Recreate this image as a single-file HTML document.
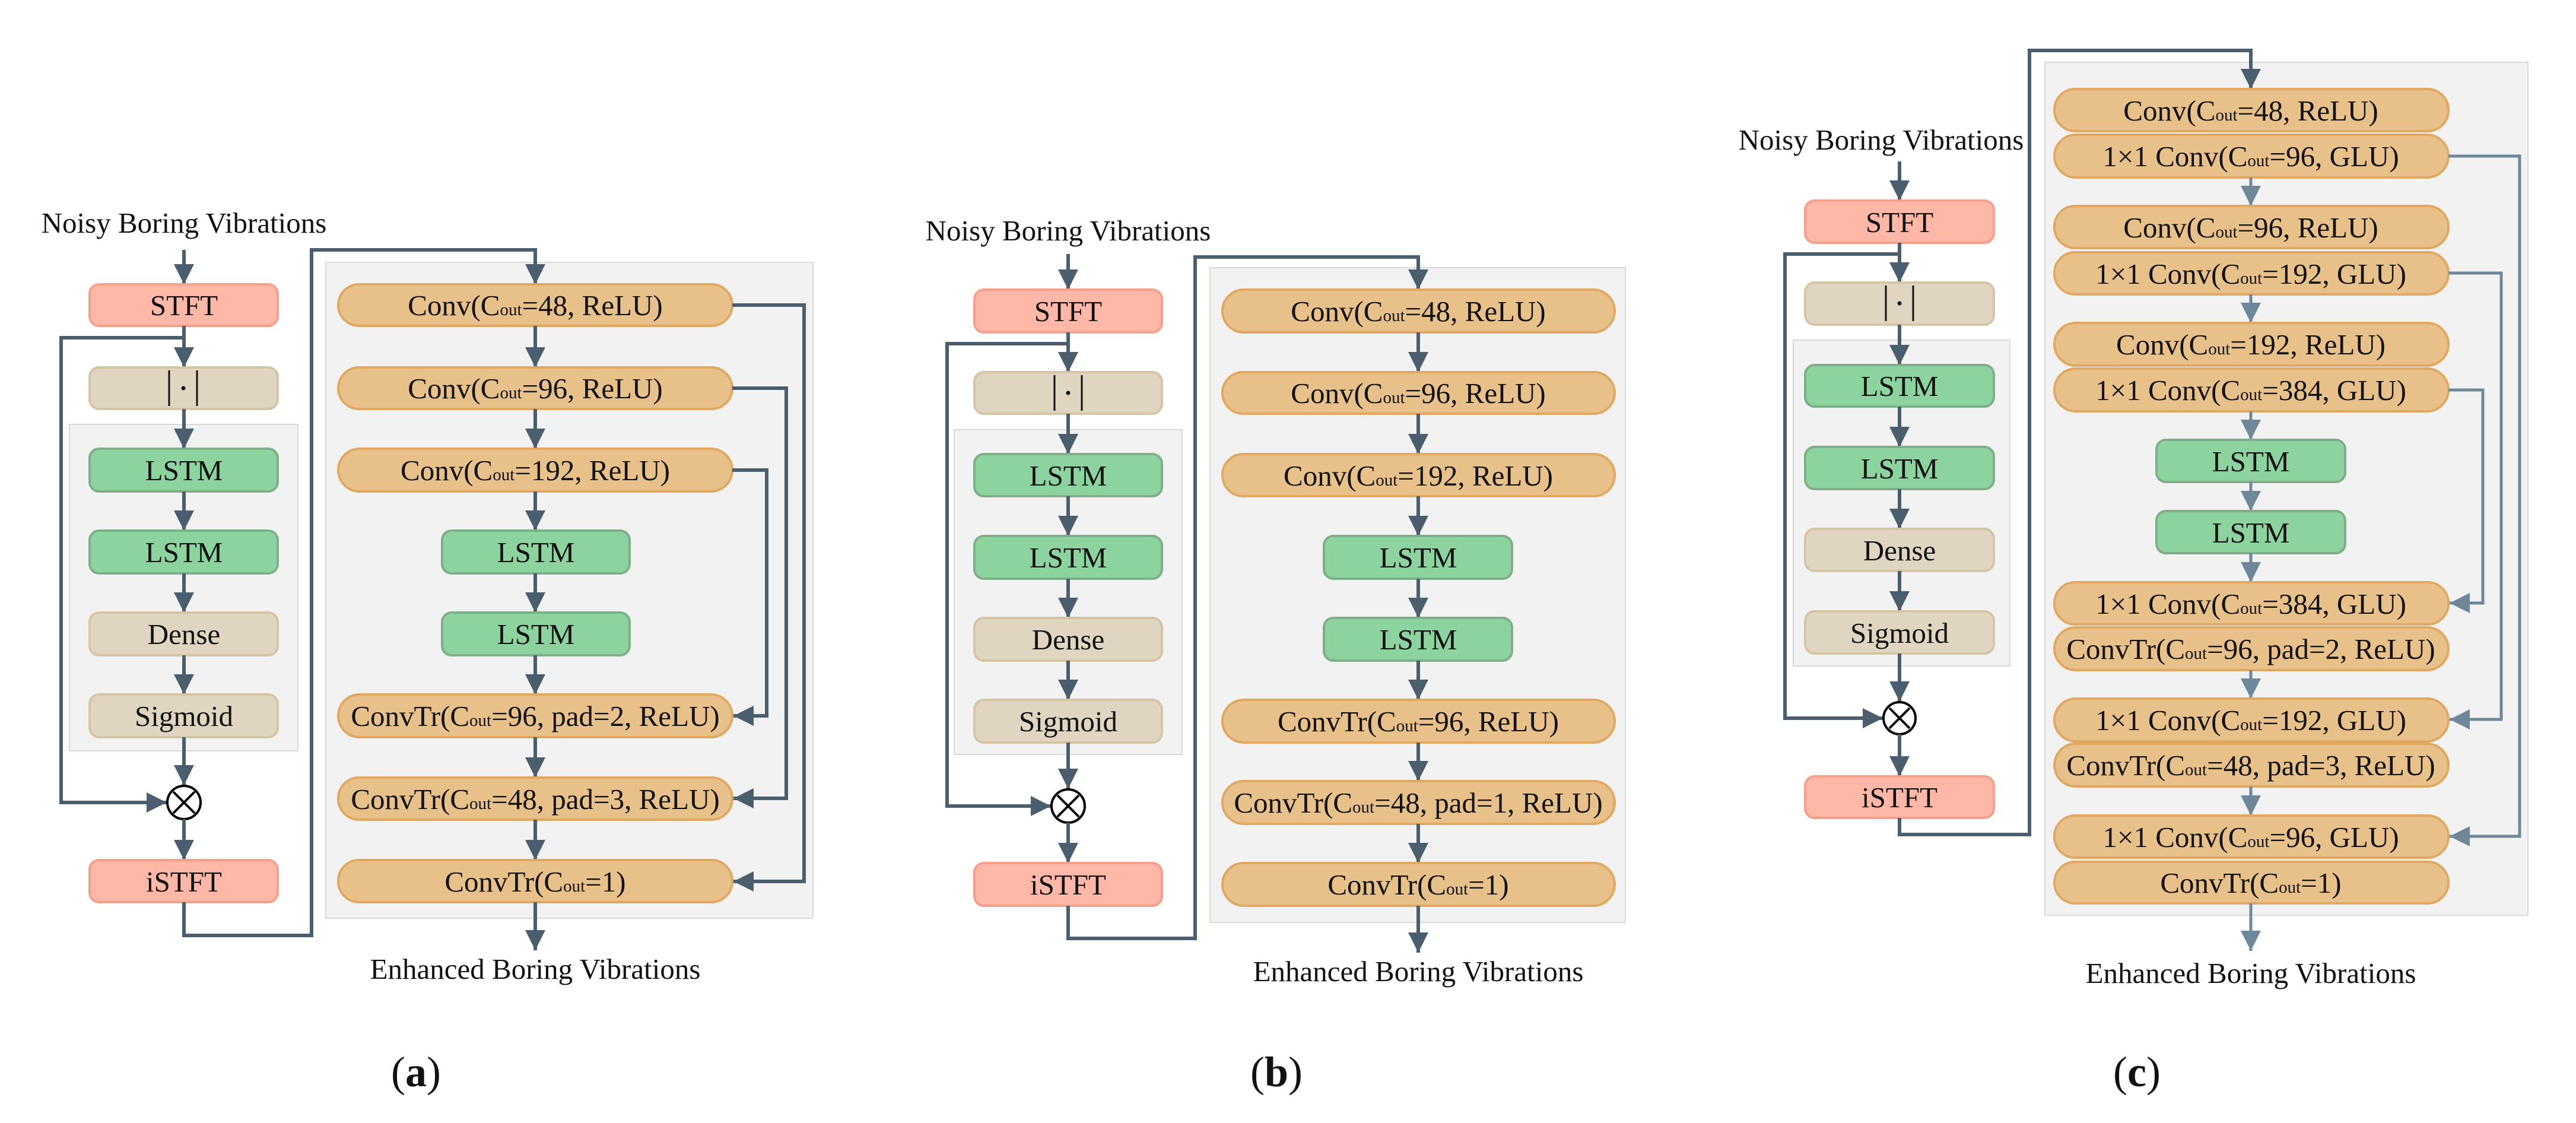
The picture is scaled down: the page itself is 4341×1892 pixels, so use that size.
<!DOCTYPE html>
<html><head><meta charset="utf-8"><style>html,body{margin:0;padding:0;background:#fff}svg{display:block}</style></head>
<body>
<svg width="4341" height="1892" viewBox="0 0 4341 1892" xmlns="http://www.w3.org/2000/svg" font-family="'Liberation Serif', serif">
<defs>
<marker id="ah" markerWidth="34" markerHeight="34" refX="34" refY="17" orient="auto" markerUnits="userSpaceOnUse"><path d="M0,0 L34,17 L0,34 z" fill="#4a5e6e"/></marker>
<marker id="ah2" markerWidth="34" markerHeight="34" refX="34" refY="17" orient="auto" markerUnits="userSpaceOnUse"><path d="M0,0 L34,17 L0,34 z" fill="#6e8799"/></marker>
<style>
.ln{stroke:#4a5e6e;stroke-width:6;fill:none}
.ln2{stroke:#6e8799;stroke-width:5;fill:none}
.st{fill:#ffb8a8;stroke:#f5a08c;stroke-width:4}
.be{fill:#e0d5c1;stroke:#d6c4a6;stroke-width:4}
.gr{fill:#8dd3a0;stroke:#7eaf88;stroke-width:4}
.or{fill:#e8c08a;stroke:#e0a860;stroke-width:4}
.bg{fill:#f2f2f2;stroke:#d9d9d9;stroke-width:2}
text{font-size:49px;fill:#111;text-anchor:middle}
.s{font-size:29px}
.cap{font-size:72px}
</style>
</defs>

<!-- ================= PANEL A ================= -->
<rect class="bg" x="117" y="715" width="385" height="550"/>
<rect class="bg" x="549" y="442" width="821" height="1105"/>
<text x="310" y="392">Noisy Boring Vibrations</text>
<path class="ln" d="M310,421 V479" marker-end="url(#ah)"/>
<rect class="st" x="151" y="479" width="317" height="70" rx="16"/>
<text x="310" y="531">STFT</text>
<path class="ln" d="M310,549 V619" marker-end="url(#ah)"/>
<path class="ln" d="M310,569 H103 V1352 H281" marker-end="url(#ah)"/>
<rect class="be" x="151" y="619" width="317" height="70" rx="16"/>
<line x1="285" y1="624" x2="285" y2="684" stroke="#111" stroke-width="3"/>
<line x1="332" y1="624" x2="332" y2="684" stroke="#111" stroke-width="3"/>
<circle cx="309" cy="654" r="3.5" fill="#111"/>
<path class="ln" d="M310,689 V756" marker-end="url(#ah)"/>
<rect class="gr" x="151" y="756" width="317" height="72" rx="16"/>
<text x="310" y="809">LSTM</text>
<path class="ln" d="M310,828 V894" marker-end="url(#ah)"/>
<rect class="gr" x="151" y="894" width="317" height="72" rx="16"/>
<text x="310" y="947">LSTM</text>
<path class="ln" d="M310,966 V1032" marker-end="url(#ah)"/>
<rect class="be" x="151" y="1032" width="317" height="72" rx="16"/>
<text x="310" y="1085">Dense</text>
<path class="ln" d="M310,1104 V1170" marker-end="url(#ah)"/>
<rect class="be" x="151" y="1170" width="317" height="72" rx="16"/>
<text x="310" y="1223">Sigmoid</text>
<path class="ln" d="M310,1242 V1323" marker-end="url(#ah)"/>
<circle cx="310" cy="1352" r="28" fill="#fff" stroke="#000" stroke-width="4"/>
<path d="M292,1334 L328,1370 M328,1334 L292,1370" stroke="#000" stroke-width="4"/>
<path class="ln" d="M310,1380 V1449" marker-end="url(#ah)"/>
<rect class="st" x="151" y="1449" width="317" height="71" rx="16"/>
<text x="310" y="1502">iSTFT</text>
<path class="ln" d="M310,1520 V1576 H525 V421 H902 V479" marker-end="url(#ah)"/>

<rect class="or" x="570" y="479" width="664" height="70" rx="35"/>
<text x="902" y="531">Conv(C<tspan class="s">out</tspan>=48, ReLU)</text>
<path class="ln" d="M902,549 V619" marker-end="url(#ah)"/>
<rect class="or" x="570" y="619" width="664" height="70" rx="35"/>
<text x="902" y="671">Conv(C<tspan class="s">out</tspan>=96, ReLU)</text>
<path class="ln" d="M902,689 V756" marker-end="url(#ah)"/>
<rect class="or" x="570" y="756" width="664" height="72" rx="36"/>
<text x="902" y="809">Conv(C<tspan class="s">out</tspan>=192, ReLU)</text>
<path class="ln" d="M902,828 V894" marker-end="url(#ah)"/>
<rect class="gr" x="745" y="894" width="316" height="72" rx="16"/>
<text x="903" y="947">LSTM</text>
<path class="ln" d="M902,966 V1032" marker-end="url(#ah)"/>
<rect class="gr" x="745" y="1032" width="316" height="72" rx="16"/>
<text x="903" y="1085">LSTM</text>
<path class="ln" d="M902,1104 V1170" marker-end="url(#ah)"/>
<rect class="or" x="570" y="1170" width="664" height="72" rx="36"/>
<text x="902" y="1223">ConvTr(C<tspan class="s">out</tspan>=96, pad=2, ReLU)</text>
<path class="ln" d="M902,1242 V1310" marker-end="url(#ah)"/>
<rect class="or" x="570" y="1310" width="664" height="71" rx="35"/>
<text x="902" y="1363">ConvTr(C<tspan class="s">out</tspan>=48, pad=3, ReLU)</text>
<path class="ln" d="M902,1381 V1449" marker-end="url(#ah)"/>
<rect class="or" x="570" y="1449" width="664" height="71" rx="35"/>
<text x="902" y="1502">ConvTr(C<tspan class="s">out</tspan>=1)</text>
<path class="ln" d="M1234,514 H1355 V1485 H1236" marker-end="url(#ah)"/>
<path class="ln" d="M1234,654 H1325 V1345 H1236" marker-end="url(#ah)"/>
<path class="ln" d="M1234,792 H1292 V1206 H1236" marker-end="url(#ah)"/>
<path class="ln" d="M902,1520 V1601" marker-end="url(#ah)"/>
<text x="902" y="1649">Enhanced Boring Vibrations</text>
<text class="cap" x="701" y="1830">(<tspan font-weight="bold">a</tspan>)</text>

<!-- ================= PANEL B ================= -->
<rect class="bg" x="1608" y="724" width="384" height="547"/>
<rect class="bg" x="2039" y="451" width="700" height="1103"/>
<text x="1800" y="405">Noisy Boring Vibrations</text>
<path class="ln" d="M1800,428 V488" marker-end="url(#ah)"/>
<rect class="st" x="1642" y="488" width="316" height="72" rx="16"/>
<text x="1800" y="541">STFT</text>
<path class="ln" d="M1800,560 V627" marker-end="url(#ah)"/>
<path class="ln" d="M1800,579 H1596 V1358 H1771" marker-end="url(#ah)"/>
<rect class="be" x="1642" y="627" width="316" height="70" rx="16"/>
<line x1="1777" y1="632" x2="1777" y2="692" stroke="#111" stroke-width="3"/>
<line x1="1823" y1="632" x2="1823" y2="692" stroke="#111" stroke-width="3"/>
<circle cx="1800" cy="662" r="3.5" fill="#111"/>
<path class="ln" d="M1800,697 V765" marker-end="url(#ah)"/>
<rect class="gr" x="1642" y="765" width="316" height="71" rx="16"/>
<text x="1800" y="818">LSTM</text>
<path class="ln" d="M1800,836 V903" marker-end="url(#ah)"/>
<rect class="gr" x="1642" y="903" width="316" height="72" rx="16"/>
<text x="1800" y="956">LSTM</text>
<path class="ln" d="M1800,975 V1041" marker-end="url(#ah)"/>
<rect class="be" x="1642" y="1041" width="316" height="72" rx="16"/>
<text x="1800" y="1094">Dense</text>
<path class="ln" d="M1800,1113 V1179" marker-end="url(#ah)"/>
<rect class="be" x="1642" y="1179" width="316" height="72" rx="16"/>
<text x="1800" y="1232">Sigmoid</text>
<path class="ln" d="M1800,1251 V1329" marker-end="url(#ah)"/>
<circle cx="1800" cy="1358" r="28" fill="#fff" stroke="#000" stroke-width="4"/>
<path d="M1782,1340 L1818,1376 M1818,1340 L1782,1376" stroke="#000" stroke-width="4"/>
<path class="ln" d="M1800,1386 V1454" marker-end="url(#ah)"/>
<rect class="st" x="1642" y="1454" width="316" height="72" rx="16"/>
<text x="1800" y="1507">iSTFT</text>
<path class="ln" d="M1800,1526 V1581 H2014 V433 H2390 V488" marker-end="url(#ah)"/>

<rect class="or" x="2060" y="488" width="661" height="72" rx="36"/>
<text x="2390" y="541">Conv(C<tspan class="s">out</tspan>=48, ReLU)</text>
<path class="ln" d="M2390,560 V627" marker-end="url(#ah)"/>
<rect class="or" x="2060" y="627" width="661" height="70" rx="35"/>
<text x="2390" y="679">Conv(C<tspan class="s">out</tspan>=96, ReLU)</text>
<path class="ln" d="M2390,697 V765" marker-end="url(#ah)"/>
<rect class="or" x="2060" y="765" width="661" height="71" rx="35"/>
<text x="2390" y="818">Conv(C<tspan class="s">out</tspan>=192, ReLU)</text>
<path class="ln" d="M2390,836 V903" marker-end="url(#ah)"/>
<rect class="gr" x="2231" y="903" width="317" height="72" rx="16"/>
<text x="2390" y="956">LSTM</text>
<path class="ln" d="M2390,975 V1041" marker-end="url(#ah)"/>
<rect class="gr" x="2231" y="1041" width="317" height="72" rx="16"/>
<text x="2390" y="1094">LSTM</text>
<path class="ln" d="M2390,1113 V1179" marker-end="url(#ah)"/>
<rect class="or" x="2060" y="1179" width="661" height="72" rx="36"/>
<text x="2390" y="1232">ConvTr(C<tspan class="s">out</tspan>=96, ReLU)</text>
<path class="ln" d="M2390,1251 V1316" marker-end="url(#ah)"/>
<rect class="or" x="2060" y="1316" width="661" height="72" rx="36"/>
<text x="2390" y="1369">ConvTr(C<tspan class="s">out</tspan>=48, pad=1, ReLU)</text>
<path class="ln" d="M2390,1388 V1454" marker-end="url(#ah)"/>
<rect class="or" x="2060" y="1454" width="661" height="72" rx="36"/>
<text x="2390" y="1507">ConvTr(C<tspan class="s">out</tspan>=1)</text>
<path class="ln" d="M2390,1526 V1605" marker-end="url(#ah)"/>
<text x="2390" y="1653">Enhanced Boring Vibrations</text>
<text class="cap" x="2151" y="1830">(<tspan font-weight="bold">b</tspan>)</text>

<!-- ================= PANEL C ================= -->
<rect class="bg" x="3022" y="573" width="365" height="549"/>
<rect class="bg" x="3446" y="105" width="814" height="1437"/>
<text x="3170" y="252">Noisy Boring Vibrations</text>
<path class="ln" d="M3201,272 V338" marker-end="url(#ah)"/>
<rect class="st" x="3042" y="338" width="318" height="71" rx="16"/>
<text x="3201" y="391">STFT</text>
<path class="ln" d="M3201,409 V476" marker-end="url(#ah)"/>
<path class="ln" d="M3201,428 H3008 V1210 H3173" marker-end="url(#ah)"/>
<rect class="be" x="3042" y="476" width="318" height="71" rx="16"/>
<line x1="3178" y1="481" x2="3178" y2="541" stroke="#111" stroke-width="3"/>
<line x1="3224" y1="481" x2="3224" y2="541" stroke="#111" stroke-width="3"/>
<circle cx="3201" cy="511" r="3.5" fill="#111"/>
<path class="ln" d="M3201,547 V615" marker-end="url(#ah)"/>
<rect class="gr" x="3042" y="615" width="318" height="70" rx="16"/>
<text x="3201" y="667">LSTM</text>
<path class="ln" d="M3201,685 V753" marker-end="url(#ah)"/>
<rect class="gr" x="3042" y="753" width="318" height="71" rx="16"/>
<text x="3201" y="806">LSTM</text>
<path class="ln" d="M3201,824 V891" marker-end="url(#ah)"/>
<rect class="be" x="3042" y="891" width="318" height="71" rx="16"/>
<text x="3201" y="944">Dense</text>
<path class="ln" d="M3201,962 V1030" marker-end="url(#ah)"/>
<rect class="be" x="3042" y="1030" width="318" height="71" rx="16"/>
<text x="3201" y="1083">Sigmoid</text>
<path class="ln" d="M3201,1101 V1182" marker-end="url(#ah)"/>
<circle cx="3201" cy="1210" r="27" fill="#fff" stroke="#000" stroke-width="4"/>
<path d="M3184,1193 L3218,1227 M3218,1193 L3184,1227" stroke="#000" stroke-width="4"/>
<path class="ln" d="M3201,1237 V1308" marker-end="url(#ah)"/>
<rect class="st" x="3042" y="1308" width="318" height="70" rx="16"/>
<text x="3201" y="1360">iSTFT</text>
<path class="ln" d="M3201,1378 V1406 H3420 V85 H3793 V150" marker-end="url(#ah)"/>

<rect class="or" x="3462" y="150" width="664" height="71" rx="35"/>
<text x="3793" y="203">Conv(C<tspan class="s">out</tspan>=48, ReLU)</text>
<rect class="or" x="3462" y="227" width="664" height="72" rx="36"/>
<text x="3793" y="280">1×1 Conv(C<tspan class="s">out</tspan>=96, GLU)</text>
<path class="ln2" d="M3793,299 V347" marker-end="url(#ah2)"/>
<rect class="or" x="3462" y="347" width="664" height="71" rx="35"/>
<text x="3793" y="400">Conv(C<tspan class="s">out</tspan>=96, ReLU)</text>
<rect class="or" x="3462" y="425" width="664" height="71" rx="35"/>
<text x="3793" y="478">1×1 Conv(C<tspan class="s">out</tspan>=192, GLU)</text>
<path class="ln2" d="M3793,496 V544" marker-end="url(#ah2)"/>
<rect class="or" x="3462" y="544" width="664" height="72" rx="36"/>
<text x="3793" y="597">Conv(C<tspan class="s">out</tspan>=192, ReLU)</text>
<rect class="or" x="3462" y="621" width="664" height="72" rx="36"/>
<text x="3793" y="674">1×1 Conv(C<tspan class="s">out</tspan>=384, GLU)</text>
<path class="ln2" d="M3793,693 V741" marker-end="url(#ah2)"/>
<rect class="gr" x="3634" y="741" width="318" height="71" rx="16"/>
<text x="3793" y="794">LSTM</text>
<path class="ln2" d="M3793,812 V861" marker-end="url(#ah2)"/>
<rect class="gr" x="3634" y="861" width="318" height="71" rx="16"/>
<text x="3793" y="914">LSTM</text>
<path class="ln2" d="M3793,932 V981" marker-end="url(#ah2)"/>
<rect class="or" x="3462" y="981" width="664" height="71" rx="35"/>
<text x="3793" y="1034">1×1 Conv(C<tspan class="s">out</tspan>=384, GLU)</text>
<rect class="or" x="3462" y="1057" width="664" height="72" rx="36"/>
<text x="3793" y="1110">ConvTr(C<tspan class="s">out</tspan>=96, pad=2, ReLU)</text>
<path class="ln2" d="M3793,1129 V1177" marker-end="url(#ah2)"/>
<rect class="or" x="3462" y="1177" width="664" height="72" rx="36"/>
<text x="3793" y="1230">1×1 Conv(C<tspan class="s">out</tspan>=192, GLU)</text>
<rect class="or" x="3462" y="1253" width="664" height="72" rx="36"/>
<text x="3793" y="1306">ConvTr(C<tspan class="s">out</tspan>=48, pad=3, ReLU)</text>
<path class="ln2" d="M3793,1325 V1374" marker-end="url(#ah2)"/>
<rect class="or" x="3462" y="1374" width="664" height="71" rx="35"/>
<text x="3793" y="1427">1×1 Conv(C<tspan class="s">out</tspan>=96, GLU)</text>
<rect class="or" x="3462" y="1452" width="664" height="70" rx="35"/>
<text x="3793" y="1504">ConvTr(C<tspan class="s">out</tspan>=1)</text>
<path class="ln2" d="M4126,263 H4246 V1409 H4128" marker-end="url(#ah2)"/>
<path class="ln2" d="M4126,460 H4215 V1212 H4128" marker-end="url(#ah2)"/>
<path class="ln2" d="M4126,657 H4184 V1016 H4128" marker-end="url(#ah2)"/>
<path class="ln2" d="M3793,1522 V1602" marker-end="url(#ah2)"/>
<text x="3793" y="1656">Enhanced Boring Vibrations</text>
<text class="cap" x="3601" y="1830">(<tspan font-weight="bold">c</tspan>)</text>
</svg>
</body></html>
